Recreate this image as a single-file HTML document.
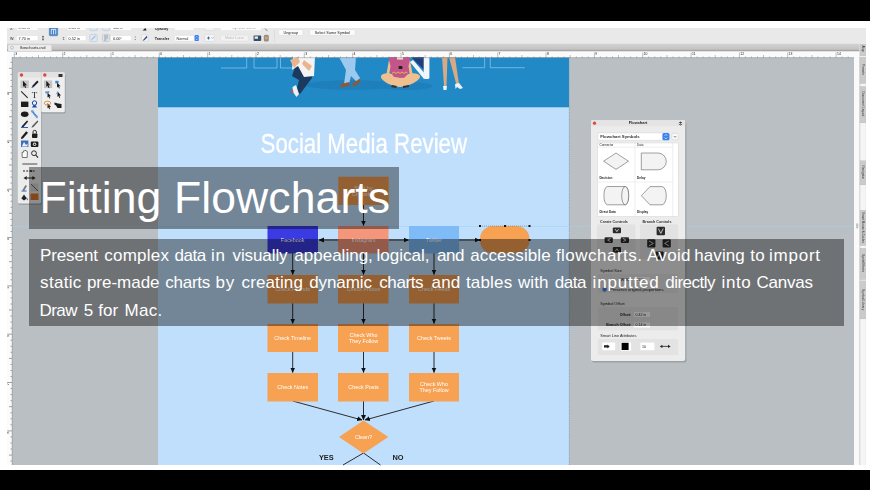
<!DOCTYPE html>
<html lang="en">
<head>
<meta charset="utf-8">
<title>Fitting Flowcharts</title>
<style>
html,body{margin:0;padding:0;background:#000;}
body{width:870px;height:490px;overflow:hidden;position:relative;font-family:"Liberation Sans",sans-serif;}
#stage{position:absolute;left:0;top:0;width:870px;height:490px;background:#000;overflow:hidden;}
#shot{position:absolute;left:0;top:21px;width:870px;height:449px;background:#fff;overflow:hidden;}
#shot svg{position:absolute;left:0;top:-21px;filter:blur(0.5px);}
.ov{position:absolute;background:rgba(0,0,0,0.4);color:#fff;}
#title{left:29px;top:166.5px;width:370px;height:62px;}
#title h1{margin:0;position:absolute;left:10.4px;top:7px;font-weight:400;font-size:44.5px;line-height:48px;white-space:nowrap;letter-spacing:0.12px;}
#desc{left:29px;top:239px;width:815px;height:87.4px;}
#desc p{margin:0;position:absolute;left:0;top:2.8px;width:815px;font-size:17px;line-height:27.4px;white-space:nowrap;}
#desc .ln{display:block;position:relative;height:27.4px;}
#desc .ln span{position:absolute;top:0;}
</style>
</head>
<body>
<div id="stage">
<div id="shot">
<svg width="870" height="490" viewBox="0 0 870 490" font-family="Liberation Sans, sans-serif">
<defs>
<linearGradient id="tabg" x1="0" y1="0" x2="0" y2="1"><stop offset="0" stop-color="#d3d3d3"/><stop offset="0.7" stop-color="#c3c3c3"/><stop offset="0.9" stop-color="#9e9e9e"/><stop offset="1" stop-color="#a8a8a8"/></linearGradient>
<marker id="ah" viewBox="0 0 6 6" refX="5.5" refY="3" markerWidth="6" markerHeight="6" orient="auto-start-reverse"><path d="M0,0.3 L6,3 L0,5.7 Z" fill="#111"/></marker>
</defs>
<!-- APP CHROME -->
<g id="chrome">
<rect x="7" y="28" width="859" height="16" fill="#e9e9e9"/>
<rect x="7" y="43.7" width="859" height="7.9" fill="url(#tabg)"/>
<rect x="7" y="51.5" width="853" height="6.5" fill="#fbfbfb"/>
<rect x="7" y="57" width="5" height="408" fill="#fbfbfb"/>
<rect x="12" y="57.5" width="842" height="407.5" fill="#b9bfc3"/>
<rect x="854" y="57" width="5.5" height="408" fill="#fafafa"/>
<rect x="859.5" y="45" width="6.5" height="420" fill="#d4d4d4"/>
</g>
<!-- PAGE -->
<g id="page">
<rect x="158" y="57.5" width="411" height="49.5" fill="#2289c7"/>
<rect x="158" y="107" width="411" height="358" fill="#bfdffc"/>
<line x1="569.3" y1="57" x2="569.3" y2="465" stroke="#7d9dbd" stroke-width="0.7" stroke-dasharray="1.2 1"/>
<line x1="158" y1="107" x2="569" y2="107" stroke="#1f7fbb" stroke-width="0.5"/>
</g>
<line x1="12" y1="226.5" x2="854" y2="226.5" stroke="#9ed3ee" stroke-width="0.6" opacity="0.85"/>
<g id="people">
<!-- outline rects -->
<g fill="none" stroke="#cfe6f6" stroke-width="0.55" opacity="0.85">
<polyline points="221,68 246.7,68 246.7,57"/>
<polyline points="254,57 254,68 277,68 277,57"/>
<polyline points="280.5,57 280.5,68 292,68"/>
<polyline points="462.3,67.7 484.6,67.7 484.6,57"/>
<polyline points="490.3,57 490.3,67.7 524.8,67.7"/>
</g>
<!-- shadows -->
<ellipse cx="352" cy="85" rx="46" ry="5" fill="#1f7fbb"/>
<ellipse cx="405" cy="86" rx="28" ry="4" fill="#1f7fbb"/>
<!-- person 1 -->
<path d="M296,64 L311,72 L312,78 L300,94 L296,92 L299,80 L292,76 Z" fill="#1b3a5e"/>
<path d="M293,57 L315,57 L314,76 L304,77 L298,66 L292,70 Z" fill="#f4f4f4"/>
<path d="M290,60 L298,57 L300,62 L294,68 Z" fill="#e9b48e"/>
<path d="M304,60 L312,66 L309,71 L302,64 Z" fill="#e9b48e"/>
<path d="M292.5,87 L296,85 L299,94 L296.5,97 L293,92 Z" fill="#eef1f4"/>
<rect x="291" y="90" width="2.2" height="3" fill="#c94b4b"/>
<!-- person 2 -->
<path d="M339,57 L356,57 L355,70 L360,78 L357,82 L351,76 L349,84 L344,84 L346,70 Z" fill="#9cc9ee"/>
<path d="M340.5,84 L349.5,82 L349.5,86 L340.5,87.5 Z" fill="#8a5a3c"/>
<path d="M352,84 L359,79 L361,81 L354,87 Z" fill="#8a5a3c"/>
<!-- person 3 -->
<path d="M381,76 C383,72 392,72 400,78 C408,72 418,72 420,76 C421,80 410,86 400,87 C390,86 380,80 381,76 Z" fill="#efc08f"/>
<path d="M389,57 L410,57 L410,72 L404,78 L394,77 L389,70 Z" fill="#c2558a"/>
<rect x="397" y="57" width="6" height="2.5" fill="#f4e3d3"/>
<rect x="398.5" y="66" width="4" height="3" rx="1" fill="#222"/><path d="M392,73.5 l2,-1.6 l2,1.6 l2,-1.6 l2,1.6 l2,-1.6 l2,1.6 l2,-1.6 l1.5,1.2" stroke="#f2c230" stroke-width="0.9" fill="none"/><path d="M389,60 L386.5,74 L389,76 L390.5,66 Z M410,60 L412.5,74 L410,76 L408.5,66 Z" fill="#efc08f"/>
<path d="M392,85 L397,86 L396,88 L391,87 Z" fill="#333"/><path d="M403,86 L409,85 L409,87 L403,88 Z" fill="#333"/>
<!-- N shape -->
<path d="M411,57 L424,57 L424,70 Z" fill="#1f3e7a"/>
<path d="M410,62 L413,60 L426,75 L424,79 Z" fill="#f2f6fa"/>
<rect x="423.7" y="57" width="5.7" height="22" rx="1.5" fill="#f2f6fa"/>
<!-- person 4 -->
<path d="M442,57 L447.5,57 L446.5,86 L444,86 Z" fill="#d9a983"/>
<path d="M449,57 L455,57 L459,84 L456.5,85 Z" fill="#d9a983"/>
<path d="M443,86 L447,86 L446.5,90 L443.5,90 Z" fill="#eef1f4"/>
<path d="M455,84 L459,83 L463,88 L460,89 L457,87 L455.5,89 Z" fill="#eef1f4"/>
</g>
<g id="flow" font-size="5.4" fill="#fff" text-anchor="middle">
<!-- connectors -->
<g stroke="#1a1a1a" stroke-width="0.9" fill="none">
<line x1="363.5" y1="205" x2="363.5" y2="225.5" marker-end="url(#ah)"/>
<line x1="338" y1="240" x2="319" y2="240" marker-end="url(#ah)"/>
<line x1="389" y1="240" x2="408.5" y2="240" marker-end="url(#ah)"/>
<line x1="459" y1="240" x2="479.5" y2="240" marker-end="url(#ah)"/>
<line x1="292.7" y1="253" x2="292.7" y2="274.5" marker-end="url(#ah)"/>
<line x1="363.5" y1="253" x2="363.5" y2="274.5" marker-end="url(#ah)"/>
<line x1="434" y1="253" x2="434" y2="274.5" marker-end="url(#ah)"/>
<line x1="292.7" y1="303" x2="292.7" y2="323.5" marker-end="url(#ah)"/>
<line x1="363.5" y1="303" x2="363.5" y2="323.5" marker-end="url(#ah)"/>
<line x1="434" y1="303" x2="434" y2="323.5" marker-end="url(#ah)"/>
<line x1="292.7" y1="352" x2="292.7" y2="372.5" marker-end="url(#ah)"/>
<line x1="363.5" y1="352" x2="363.5" y2="372.5" marker-end="url(#ah)"/>
<line x1="434" y1="352" x2="434" y2="372.5" marker-end="url(#ah)"/>
<line x1="292.7" y1="401" x2="362" y2="420" marker-end="url(#ah)"/>
<line x1="363.5" y1="401" x2="363.5" y2="420" marker-end="url(#ah)"/>
<line x1="434" y1="401" x2="365" y2="420" marker-end="url(#ah)"/>
<line x1="363.5" y1="453" x2="343" y2="465"/>
<line x1="363.5" y1="453" x2="380.5" y2="465"/>
</g>
<!-- boxes -->
<rect x="338.3" y="176.7" width="50.4" height="28.3" fill="#f7a152"/>
<text x="363.5" y="190">Start by</text><text x="363.5" y="195.5">Choosing</text>
<rect x="267.5" y="226" width="50.5" height="27.5" fill="#3b3be3"/>
<text x="292.7" y="241.5">Facebook</text>
<rect x="338" y="226" width="50.5" height="27.5" fill="#f4967c"/>
<text x="363.5" y="241.5">Instagram</text>
<rect x="409" y="226" width="50" height="27.5" fill="#7fbbf6"/>
<text x="434" y="241.5">Twitter</text>
<rect x="480" y="226" width="49.5" height="27.5" rx="13" ry="13" fill="#f7a152"/>
<g fill="#111"><rect x="479" y="225" width="2" height="2"/><rect x="504" y="225" width="2" height="2"/><rect x="528.5" y="225" width="2" height="2"/><rect x="479" y="239" width="2" height="2"/><rect x="528.5" y="239" width="2" height="2"/></g>
<line x1="480" y1="226" x2="529.5" y2="226" stroke="#444" stroke-width="0.4" stroke-dasharray="1 1"/>
<rect x="267.5" y="275" width="50.5" height="28.5" fill="#f7a152"/>
<text x="292.7" y="290.5">Check Friends</text>
<rect x="338" y="275" width="50.5" height="28.5" fill="#f7a152"/>
<text x="363.5" y="290.5">Check Photos</text>
<rect x="409" y="275" width="50" height="28.5" fill="#f7a152"/>
<text x="434" y="290.5">Check Feeds</text>
<rect x="267.5" y="324" width="50.5" height="28" fill="#f7a152"/>
<text x="292.7" y="339.5">Check Timeline</text>
<rect x="338" y="324" width="50.5" height="28" fill="#f7a152"/>
<text x="363.5" y="336.5">Check Who</text><text x="363.5" y="342.5">They Follow</text>
<rect x="409" y="324" width="50" height="28" fill="#f7a152"/>
<text x="434" y="339.5">Check Tweets</text>
<rect x="267.5" y="373" width="50.5" height="28.5" fill="#f7a152"/>
<text x="292.7" y="388.5">Check Notes</text>
<rect x="338" y="373" width="50.5" height="28.5" fill="#f7a152"/>
<text x="363.5" y="388.5">Check Posts</text>
<rect x="409" y="373" width="50" height="28.5" fill="#f7a152"/>
<text x="434" y="385.5">Check Who</text><text x="434" y="391.5">They Follow</text>
<polygon points="363.5,420.5 388.3,437 363.5,453.5 339,437" fill="#f7a152"/>
<text x="363.5" y="438.5">Clean?</text>
<text x="326.3" y="459.5" font-size="7.4" font-weight="700" fill="#222">YES</text>
<text x="398" y="459.5" font-size="7.4" font-weight="700" fill="#222">NO</text>
<text x="363.8" y="153" font-size="28" fill="#fff" stroke="#fff" stroke-width="0.35" textLength="206.5" lengthAdjust="spacingAndGlyphs">Social Media Review</text>
</g>
<g id="toolbox">
<!-- shadow -->
<rect x="18.5" y="73.5" width="23.5" height="131.3" rx="1.5" fill="#000" opacity="0.18"/>
<rect x="41.5" y="73.5" width="24" height="40" rx="1.5" fill="#000" opacity="0.18"/>
<rect x="17.8" y="72.3" width="23.4" height="131.3" rx="1.5" fill="#ececec"/>
<rect x="41.2" y="72.3" width="23.6" height="40" rx="1.5" fill="#efefef"/>
<rect x="17.8" y="72.3" width="47" height="5.2" rx="1.5" fill="#e2e2e2"/>
<line x1="41.2" y1="72.3" x2="41.2" y2="112.3" stroke="#c8c8c8" stroke-width="0.5"/>
<circle cx="21.5" cy="75" r="1.7" fill="#e0443e"/>
<circle cx="44.8" cy="75" r="1.7" fill="#e0443e"/>
<rect x="58.5" y="74" width="4" height="3" fill="#333"/>
<!-- selected -->
<rect x="20.6" y="80.5" width="8.2" height="7.6" fill="#c4c4c4"/>
<rect x="44" y="80.5" width="8.2" height="7.6" fill="#c4c4c4"/>
<!-- col1 icons -->
<g fill="#1c1c1c" stroke="none">
<path d="M23,80.8 L27,85.2 L25.2,85.2 L26.2,87.6 L25.2,88 L24.2,85.7 L23,86.8 Z"/>
<path d="M21.5,91 L28,97.5 L27.3,98.2 L20.8,91.7 Z"/>
<rect x="21" y="101.6" width="7.4" height="5.4"/>
<ellipse cx="24.7" cy="114.3" rx="3.8" ry="2.7"/>
<path d="M21.5,126.5 L27,120.5 L28.2,121.6 L23,127.5 Z"/><rect x="21" y="127" width="7" height="1" fill="#2a5fb5"/>
<path d="M21.2,137.2 L26.2,131.2 L28,132.8 L23,138.5 L21,139 Z"/>
<rect x="21" y="140.5" width="7.4" height="6.5" fill="#3c6fb6"/><path d="M22,146 L24,142 L26,145 L27.5,143.5 L27.5,146.5 L22,146.5 Z" fill="#e8f0fa"/>
<path d="M22.3,157.5 L22,152.5 L23.3,152.3 L23.6,150.8 L24.8,150.8 L25,150.4 L26.2,150.6 L26.3,151.2 L27.4,151.6 L27.2,157.5 Z" fill="#fafafa" stroke="#222" stroke-width="0.6"/>
</g>
<!-- col2 icons -->
<g>
<path d="M37.2,80.6 L38.6,82 L33.6,87 L31.6,87.8 L32.4,85.8 Z" fill="#1c1c1c"/><path d="M33.6,87 L31.6,87.8 L32.4,85.8 Z" fill="#2d64c8"/>
<text x="34.5" y="97.6" font-family="Liberation Serif, serif" font-size="9" text-anchor="middle" fill="#1c1c1c">T</text>
<circle cx="34.5" cy="103" r="2.2" fill="none" stroke="#1d4fb0" stroke-width="1"/><path d="M32,107.5 L37,107.5 L35.5,105 L33.5,105 Z" fill="#1d4fb0"/>
<path d="M31.5,111.5 L33,110.5 L35,113.5 L37.5,116 L36.5,117.5 L34,115 Z" fill="#4a8ad4"/><circle cx="32.2" cy="111.2" r="1.2" fill="#6aa5e4"/><circle cx="36.8" cy="117" r="1.2" fill="#6aa5e4"/>
<path d="M37.4,120.6 L38.4,121.6 L33.4,127 L31.4,127.8 L32.2,126 Z" fill="#555"/>
<rect x="32" y="133.5" width="5.4" height="4.5" rx="0.8" fill="#1c1c1c"/><path d="M33,133.5 L33,132 A1.7,1.7 0 0 1 36.4,132 L36.4,133.5" fill="none" stroke="#1c1c1c" stroke-width="0.9"/>
<rect x="30.8" y="141.5" width="7.6" height="5.4" rx="1" fill="#1c1c1c"/><circle cx="34.6" cy="144.3" r="1.7" fill="#ececec"/><circle cx="34.6" cy="144.3" r="0.9" fill="#1c1c1c"/>
<circle cx="34" cy="153.2" r="2.4" fill="none" stroke="#1c1c1c" stroke-width="0.9"/><line x1="35.8" y1="155" x2="38" y2="157.6" stroke="#1c1c1c" stroke-width="1.1"/>
</g>
<!-- lower -->
<line x1="22.3" y1="164" x2="37.3" y2="164" stroke="#222" stroke-width="0.8"/>
<line x1="23" y1="171" x2="35.6" y2="171" stroke="#222" stroke-width="1" stroke-dasharray="2 1.2"/><circle cx="31" cy="171" r="1" fill="#222"/>
<line x1="25" y1="178" x2="34" y2="178" stroke="#222" stroke-width="1"/><path d="M23.5,178 L26.7,176 L26.7,180 Z M35.6,178 L32.4,176 L32.4,180 Z" fill="#222"/>
<path d="M22.5,190 L25.5,185 L27,186 L24,191 Z" fill="#777"/><rect x="21.5" y="190.5" width="5" height="1" fill="#2a5fb5"/>
<rect x="30.5" y="183.5" width="8" height="8" fill="#d6d6d6"/><line x1="31" y1="184" x2="38" y2="191" stroke="#333" stroke-width="0.7"/>
<path d="M21.3,198.5 L24,194.5 L26.8,198.5 L24,200.5 Z" fill="#222"/><path d="M26.5,197 L28,199.5 L27,200.5 Z" fill="#2a5fb5"/>
<rect x="30.5" y="193.5" width="8" height="6.5" fill="#d9772c"/>
<!-- flyout icons -->
<g fill="#1c1c1c">
<path d="M46.3,80.8 L50.3,85.2 L48.5,85.2 L49.5,87.6 L48.5,88 L47.5,85.7 L46.3,86.8 Z"/>
<path d="M57,82.5 L60.6,86.3 L59,86.3 L59.8,88.2 L59,88.5 L58.2,86.7 L57,87.6 Z"/><rect x="55.3" y="80.8" width="3.2" height="2.6" fill="#3f7fd0"/>
<path d="M47.5,92.5 L51,96.3 L49.4,96.3 L50.2,98.2 L49.4,98.5 L48.6,96.7 L47.5,97.6 Z"/><path d="M45,91.5 L49.5,91 L49,93 L45.8,93.8 Z" fill="#5a97dc"/>
<path d="M57.5,91.5 L61,95.6 L59.4,95.6 L60.2,97.8 L59.4,98 L58.6,96 L57.5,97 Z"/><path d="M55.5,94.5 L58,91 L58.5,93 Z" fill="#5a97dc"/>
<path d="M47.5,103 L51,107 L49.4,107 L50.2,109 L49.4,109.3 L48.6,107.4 L47.5,108.3 Z"/><ellipse cx="47.5" cy="103.2" rx="3.2" ry="2" fill="none" stroke="#e08a2e" stroke-width="0.9"/>
<path d="M54.5,102.5 L58,103.5 L61.5,104 L61.5,108 L57.5,108 L56,105.5 L54.5,104.5 Z"/>
</g>
</g>
<g id="panel" font-size="3.6" fill="#222">
<rect x="592" y="121.5" width="94.5" height="241" rx="2" fill="#000" opacity="0.16"/>
<rect x="591" y="120" width="94.2" height="241" rx="2" fill="#ececec"/>
<rect x="591" y="120" width="94.2" height="6.3" rx="2" fill="#e4e4e4"/>
<circle cx="594.5" cy="123.2" r="1.6" fill="#e0443e"/>
<text x="638" y="124.3" text-anchor="middle" font-size="3.9" font-weight="700">Flowchart</text>
<path d="M680.5,121.5 L680.5,124.5 M679,122.5 L682,122.5 M678.8,124 Q680.5,126.2 682.2,124" stroke="#333" stroke-width="0.7" fill="none"/>
<!-- dropdown -->
<rect x="597.7" y="132.9" width="71.7" height="7.4" rx="1.2" fill="#fff" stroke="#c9c9c9" stroke-width="0.4"/>
<text x="600.3" y="138.2" font-size="4.3" font-weight="700" fill="#333">Flowchart Symbols</text>
<rect x="662.4" y="132.9" width="7" height="7.4" rx="1.5" fill="#3b82f0"/>
<path d="M664.6,135.8 L665.9,134.3 L667.2,135.8 M664.6,137.5 L665.9,139 L667.2,137.5" stroke="#fff" stroke-width="0.6" fill="none"/>
<rect x="672" y="133.4" width="6.2" height="6.4" rx="1" fill="#fafafa" stroke="#c4c4c4" stroke-width="0.4"/>
<path d="M673.9,136 L675.1,137.4 L676.3,136" stroke="#444" stroke-width="0.6" fill="none"/>
<!-- symbol list -->
<rect x="597.7" y="143" width="80.5" height="73.3" fill="#fff" stroke="#d0d0d0" stroke-width="0.4"/>
<g stroke="#d4d4d4" stroke-width="0.4"><line x1="597.7" y1="147.2" x2="672.8" y2="147.2"/><line x1="597.7" y1="182" x2="672.8" y2="182"/><line x1="635" y1="143" x2="635" y2="216.3"/><line x1="672.8" y1="143" x2="672.8" y2="216.3"/></g>
<text x="599.5" y="145.8" font-size="3">Connector</text><text x="637" y="145.8" font-size="3">Data</text>
<g fill="#f3f3f3" stroke="#444" stroke-width="0.5">
<polygon points="603.6,161.2 616,153 628.5,161.2 616,169.4"/>
<path d="M641.3,153 L657.9,153 A8.4,8.4 0 0 1 657.9,169.8 L641.3,169.8 Z"/>
<path d="M607.4,186.5 L625.2,186.5 A3.5,9.15 0 0 1 625.2,204.8 L607.4,204.8 A3.5,9.15 0 0 1 607.4,186.5 Z"/>
<ellipse cx="625.2" cy="195.65" rx="3.5" ry="9.15"/>
<path d="M650,186.6 L662,186.6 A4.3,9.1 0 0 1 662,204.8 L650,204.8 L641.3,195.7 Z"/>
</g>
<g font-weight="700" font-size="3.1"><text x="599.4" y="178.6">Decision</text><text x="637.1" y="178.6">Delay</text>
<text x="599.4" y="213">Direct Data</text><text x="637.1" y="213">Display</text></g>
<!-- controls -->
<text x="613.9" y="222.7" text-anchor="middle" font-size="3.7" font-weight="700" fill="#333">Create Controls</text>
<text x="657" y="222.7" text-anchor="middle" font-size="3.7" font-weight="700" fill="#333">Branch Controls</text>
<rect x="597" y="224.3" width="38.4" height="35" rx="1.5" fill="#e2e2e2"/>
<rect x="640" y="224.3" width="38" height="35" rx="1.5" fill="#e2e2e2"/>
<g fill="#2b2b2b">
<rect x="612.8" y="227.4" width="8.2" height="5.8" rx="1"/><rect x="604.6" y="237.2" width="8.2" height="5.8" rx="1"/><rect x="620.8" y="237.2" width="8.2" height="5.8" rx="1"/><rect x="612.8" y="247" width="8.2" height="5.8" rx="1"/>
<rect x="656.6" y="226.8" width="8.4" height="8.4" rx="1"/><rect x="647.2" y="239.3" width="8.2" height="8.2" rx="1"/><rect x="662.6" y="239.3" width="8.2" height="8.2" rx="1"/><rect x="655.4" y="251.4" width="8.2" height="8" rx="1"/>
</g>
<g stroke="#f0f0f0" stroke-width="0.8" fill="none">
<path d="M615.2,229.2 L616.9,231.6 L618.6,229.2"/><path d="M610.4,238.6 L607.6,240.1 L610.4,241.6"/><path d="M623.2,238.6 L626,240.1 L623.2,241.6"/><path d="M615.2,251.2 L616.9,248.8 L618.6,251.2"/>
<path d="M658.4,228.6 L660.8,233.4 L663.2,228.6"/><path d="M649,241 L653.4,243.4 L649,245.8"/><path d="M668.8,241 L664.6,243.4 L668.8,245.8"/><path d="M657.2,257.6 L659.5,253.2 L661.8,257.6"/>
</g>
<!-- symbol size -->
<text x="600.3" y="271.6" font-size="3.9">Symbol Size</text>
<rect x="597.7" y="274" width="80.4" height="19" rx="1.5" fill="#e3e3e3"/>
<text x="631" y="280.6" text-anchor="end">Width:</text><rect x="634" y="277" width="16" height="5" fill="#fff"/><text x="635.5" y="280.8">0.52 in</text>
<rect x="602.6" y="287.4" width="4" height="4" rx="0.8" fill="#3b82f0"/>
<text x="610" y="291" font-size="4.2">Preserve original proportions</text>
<!-- symbol offset -->
<text x="600.3" y="304.8" font-size="3.9">Symbol Offset</text>
<rect x="597.7" y="307" width="80.4" height="23.5" rx="1.5" fill="#e3e3e3"/>
<text x="631.3" y="315.8" text-anchor="end" font-weight="700">Offset:</text><rect x="634" y="312" width="16" height="5" fill="#fff"/><text x="635.5" y="315.8">0.42 in</text>
<text x="631.3" y="326.2" text-anchor="end" font-weight="700">Branch Offset:</text><rect x="634" y="322.4" width="16" height="5" fill="#fff"/><text x="635.5" y="326.2">0.14 in</text>
<!-- smart line -->
<text x="600.3" y="337" font-size="3.9">Smart Line Attributes</text>
<rect x="597.7" y="339" width="80.4" height="16" rx="1.5" fill="#e3e3e3"/>
<rect x="602.2" y="342.6" width="13" height="7.6" rx="1" fill="#fff"/><path d="M604,345.2 L607.5,345.2 L607.5,344.4 L609.6,346.4 L607.5,348.4 L607.5,347.6 L604,347.6 Z" fill="#222"/>
<rect x="620.6" y="342" width="10.5" height="8.8" rx="1" fill="#fff"/><rect x="621.6" y="342.8" width="7" height="7.2" fill="#000"/>
<rect x="640.4" y="342.6" width="14" height="7.6" fill="#fff"/><text x="642" y="347.8">10</text>
<line x1="661.5" y1="346.4" x2="669" y2="346.4" stroke="#222" stroke-width="0.8"/><path d="M659.8,346.4 L662.4,344.8 L662.4,348 Z M670.6,346.4 L668,344.8 L668,348 Z" fill="#222"/>
</g>
<g id="rulers">
<path d="M14.3,58v-5.5M20.3,58v-1.6M26.4,58v-1.6M32.4,58v-1.6M38.5,58v-3M44.5,58v-1.6M50.6,58v-1.6M56.6,58v-1.6M62.6,58v-5.5M68.7,58v-1.6M74.7,58v-1.6M80.8,58v-1.6M86.8,58v-3M92.9,58v-1.6M98.9,58v-1.6M104.9,58v-1.6M111.0,58v-5.5M117.0,58v-1.6M123.1,58v-1.6M129.1,58v-1.6M135.2,58v-3M141.2,58v-1.6M147.2,58v-1.6M153.3,58v-1.6M159.3,58v-5.5M165.4,58v-1.6M171.4,58v-1.6M177.4,58v-1.6M183.5,58v-3M189.5,58v-1.6M195.6,58v-1.6M201.6,58v-1.6M207.7,58v-5.5M213.7,58v-1.6M219.7,58v-1.6M225.8,58v-1.6M231.8,58v-3M237.9,58v-1.6M243.9,58v-1.6M250.0,58v-1.6M256.0,58v-5.5M262.0,58v-1.6M268.1,58v-1.6M274.1,58v-1.6M280.2,58v-3M286.2,58v-1.6M292.3,58v-1.6M298.3,58v-1.6M304.3,58v-5.5M310.4,58v-1.6M316.4,58v-1.6M322.5,58v-1.6M328.5,58v-3M334.6,58v-1.6M340.6,58v-1.6M346.6,58v-1.6M352.7,58v-5.5M358.7,58v-1.6M364.8,58v-1.6M370.8,58v-1.6M376.9,58v-3M382.9,58v-1.6M388.9,58v-1.6M395.0,58v-1.6M401.0,58v-5.5M407.1,58v-1.6M413.1,58v-1.6M419.1,58v-1.6M425.2,58v-3M431.2,58v-1.6M437.3,58v-1.6M443.3,58v-1.6M449.4,58v-5.5M455.4,58v-1.6M461.4,58v-1.6M467.5,58v-1.6M473.5,58v-3M479.6,58v-1.6M485.6,58v-1.6M491.7,58v-1.6M497.7,58v-5.5M503.7,58v-1.6M509.8,58v-1.6M515.8,58v-1.6M521.9,58v-3M527.9,58v-1.6M534.0,58v-1.6M540.0,58v-1.6M546.0,58v-5.5M552.1,58v-1.6M558.1,58v-1.6M564.2,58v-1.6M570.2,58v-3M576.3,58v-1.6M582.3,58v-1.6M588.3,58v-1.6M594.4,58v-5.5M600.4,58v-1.6M606.5,58v-1.6M612.5,58v-1.6M618.5,58v-3M624.6,58v-1.6M630.6,58v-1.6M636.7,58v-1.6M642.7,58v-5.5M648.8,58v-1.6M654.8,58v-1.6M660.8,58v-1.6M666.9,58v-3M672.9,58v-1.6M679.0,58v-1.6M685.0,58v-1.6M691.1,58v-5.5M697.1,58v-1.6M703.1,58v-1.6M709.2,58v-1.6M715.2,58v-3M721.3,58v-1.6M727.3,58v-1.6M733.4,58v-1.6M739.4,58v-5.5M745.4,58v-1.6M751.5,58v-1.6M757.5,58v-1.6M763.6,58v-3M769.6,58v-1.6M775.7,58v-1.6M781.7,58v-1.6M787.7,58v-5.5M793.8,58v-1.6M799.8,58v-1.6M805.9,58v-1.6M811.9,58v-3M818.0,58v-1.6M824.0,58v-1.6M830.0,58v-1.6M836.1,58v-5.5M842.1,58v-1.6M848.2,58v-1.6" stroke="#444" stroke-width="0.45" opacity="0.75" fill="none"/>
<path d="M12,62.3h-1.5M12,68.3h-3M12,74.4h-1.5M12,80.4h-1.5M12,86.5h-1.5M12,92.5h-4.8M12,98.5h-1.5M12,104.6h-1.5M12,110.6h-1.5M12,116.7h-3M12,122.7h-1.5M12,128.8h-1.5M12,134.8h-1.5M12,140.8h-4.8M12,146.9h-1.5M12,152.9h-1.5M12,159.0h-1.5M12,165.0h-3M12,171.1h-1.5M12,177.1h-1.5M12,183.1h-1.5M12,189.2h-4.8M12,195.2h-1.5M12,201.3h-1.5M12,207.3h-1.5M12,213.3h-3M12,219.4h-1.5M12,225.4h-1.5M12,231.5h-1.5M12,237.5h-4.8M12,243.6h-1.5M12,249.6h-1.5M12,255.6h-1.5M12,261.7h-3M12,267.7h-1.5M12,273.8h-1.5M12,279.8h-1.5M12,285.9h-4.8M12,291.9h-1.5M12,297.9h-1.5M12,304.0h-1.5M12,310.0h-3M12,316.1h-1.5M12,322.1h-1.5M12,328.2h-1.5M12,334.2h-4.8M12,340.2h-1.5M12,346.3h-1.5M12,352.3h-1.5M12,358.4h-3M12,364.4h-1.5M12,370.5h-1.5M12,376.5h-1.5M12,382.5h-4.8M12,388.6h-1.5M12,394.6h-1.5M12,400.7h-1.5M12,406.7h-3M12,412.8h-1.5M12,418.8h-1.5M12,424.8h-1.5M12,430.9h-4.8M12,436.9h-1.5M12,443.0h-1.5M12,449.0h-1.5M12,455.1h-3M12,461.1h-1.5" stroke="#333" stroke-width="0.45" fill="none"/>
<g font-size="3.4" fill="#222"><text x="15.2" y="55.2">3</text><text x="63.5" y="55.2">2</text><text x="111.9" y="55.2">1</text><text x="160.2" y="55.2">0</text><text x="208.6" y="55.2">1</text><text x="256.9" y="55.2">2</text><text x="305.2" y="55.2">3</text><text x="353.6" y="55.2">4</text><text x="401.9" y="55.2">5</text><text x="450.3" y="55.2">6</text><text x="498.6" y="55.2">7</text><text x="546.9" y="55.2">8</text><text x="595.3" y="55.2">9</text><text x="643.6" y="55.2">10</text><text x="692.0" y="55.2">11</text><text x="740.3" y="55.2">12</text><text x="788.6" y="55.2">13</text><text x="837.0" y="55.2">14</text><text x="9.2" y="95.0" transform="rotate(-90 9.2 95.0)">1</text><text x="9.2" y="143.3" transform="rotate(-90 9.2 143.3)">2</text><text x="9.2" y="191.7" transform="rotate(-90 9.2 191.7)">3</text><text x="9.2" y="240.0" transform="rotate(-90 9.2 240.0)">4</text><text x="9.2" y="288.4" transform="rotate(-90 9.2 288.4)">5</text><text x="9.2" y="336.7" transform="rotate(-90 9.2 336.7)">6</text><text x="9.2" y="385.0" transform="rotate(-90 9.2 385.0)">7</text><text x="9.2" y="433.4" transform="rotate(-90 9.2 433.4)">8</text></g>
<line x1="12" y1="57.7" x2="854" y2="57.7" stroke="#8d9296" stroke-width="0.5"/>
<line x1="12.2" y1="57" x2="12.2" y2="465" stroke="#8d9296" stroke-width="0.6"/>
</g>
<g id="righttabs" font-size="3.2" fill="#333">
<rect x="859.6" y="43.7" width="6.2" height="421.3" fill="#f5f5f5"/>
<rect x="859.4" y="57" width="0.9" height="408" fill="#d2d2d2"/>
<g fill="#cbcbcb" stroke="#b2b2b2" stroke-width="0.3">
<rect x="860" y="44.3" width="5.8" height="11.6"/><rect x="860" y="57.1" width="5.8" height="26.4"/><rect x="860" y="86.5" width="5.8" height="36.4"/><rect x="860" y="160.8" width="5.8" height="24.1"/><rect x="860" y="210.2" width="5.8" height="35.4"/><rect x="860" y="248.3" width="5.8" height="31.3"/><rect x="860" y="280.9" width="5.8" height="38"/>
</g>
<text transform="translate(861.8 45.6) rotate(90)" font-size="3">Align</text>
<text transform="translate(861.8 64) rotate(90)">Presets</text>
<text transform="translate(861.8 91.5) rotate(90)">Document Layout</text>
<text transform="translate(861.8 165.5) rotate(90)">Navigator</text>
<text transform="translate(861.8 212) rotate(90)" font-size="3">Smart Mouse &amp; Guides</text>
<text transform="translate(861.8 254) rotate(90)">SpriteEffects</text>
<text transform="translate(861.8 289) rotate(90)">Symbol Library</text>
<rect x="856" y="223.3" width="2.3" height="5.3" rx="1" fill="#c6c6c6"/>
</g>
<g id="toolbar" font-size="3.8" fill="#222">
<!-- tab -->
<path d="M8,51.4 L8,46 Q8,44.6 9.4,44.6 L50.4,44.6 Q51.8,44.6 51.8,46 L51.8,51.4 Z" fill="#ececec" stroke="#b0b0b0" stroke-width="0.3"/>
<circle cx="12" cy="47.6" r="1.5" fill="none" stroke="#888" stroke-width="0.4"/>
<text x="32.8" y="49" text-anchor="middle" font-size="4">flowcharts.cvd</text>
<!-- row 2 -->
<text x="10" y="39.6" font-size="3.6">W:</text>
<rect x="16.4" y="35.6" width="21.6" height="5.2" fill="#fff" stroke="#d2d2d2" stroke-width="0.3"/><text x="18.6" y="39.6">7.70 in</text>
<path d="M43,35.8 v4.6 M42.2,36.6 h1.6 M42.2,39.6 h1.6" stroke="#444" stroke-width="0.7" fill="none"/>
<rect x="49.3" y="27.2" width="8.4" height="8.6" rx="1" fill="#4b86c9" stroke="#2f66a6" stroke-width="0.4"/>
<path d="M51.3,29.5 v4.8 M53.5,29.5 v4.8 M55.7,29.5 v4.8 M51,29.4 h5" stroke="#eaf2fb" stroke-width="0.8" fill="none"/>
<text x="62.6" y="39.8" font-size="4">‡</text>
<rect x="67" y="35.6" width="19" height="5.2" fill="#fff" stroke="#d2d2d2" stroke-width="0.3"/><text x="68.6" y="39.6">0.52 in</text>
<rect x="89.8" y="34.4" width="7.4" height="7.2" rx="1" fill="#dfe8f2" stroke="#9fb3c8" stroke-width="0.4"/><path d="M91.5,39.8 L95.5,36" stroke="#4b86c9" stroke-width="0.7"/>
<rect x="102.4" y="34.4" width="7" height="7.2" rx="1" fill="#e4e4e4" stroke="#aaa" stroke-width="0.4"/><path d="M104,36 h4 M104,38 h4 M104,40 h2.4" stroke="#3d6fb0" stroke-width="0.6"/>
<rect x="110.6" y="35.6" width="21" height="5.2" fill="#fff" stroke="#d2d2d2" stroke-width="0.3"/><text x="113" y="39.6">0.00°</text>
<path d="M135.3,36.6 v0.8 M135.3,39 v0.8" stroke="#444" stroke-width="0.8"/>
<rect x="141.4" y="34.6" width="6.6" height="6.8" rx="1" fill="#f4f4f4" stroke="#bbb" stroke-width="0.3"/><path d="M142.6,40.4 L146.8,35.8 L147.2,37.4 L144,40.6 Z" fill="#23418a"/>
<text x="154.7" y="39.6" font-weight="700" font-size="3.7">Transfer</text>
<rect x="174.5" y="35.4" width="19.5" height="5.6" rx="1" fill="#fff" stroke="#d2d2d2" stroke-width="0.3"/><text x="176.6" y="39.5" font-size="3.6">Normal</text>
<rect x="194.6" y="35.1" width="4.2" height="6" rx="1.2" fill="#3b82f0"/><path d="M195.8,37.4 l0.9,-1 l0.9,1 M195.8,38.8 l0.9,1 l0.9,-1" stroke="#fff" stroke-width="0.5" fill="none"/>
<rect x="204.8" y="34.6" width="9.6" height="6.8" rx="1" fill="#f6f6f6" stroke="#bbb" stroke-width="0.3"/><path d="M207,38 h3 M208.5,36.5 v3" stroke="#3565b0" stroke-width="0.9"/><path d="M211.6,37.4 l0.9,1 l0.9,-1" stroke="#444" stroke-width="0.4" fill="none"/>
<rect x="220.4" y="35.2" width="28" height="5.8" rx="1" fill="#f3f3f3" stroke="#cfcfcf" stroke-width="0.3"/><text x="234.4" y="39.4" text-anchor="middle" fill="#b9b9b9">Make Lone</text>
<rect x="253.6" y="35.4" width="7.6" height="5.6" rx="0.8" fill="#3a4b63"/><rect x="254.6" y="36.4" width="3.4" height="2.4" fill="#dfe6ef"/>
<rect x="263.8" y="34.8" width="5" height="6.6" rx="1.5" fill="#8e8e8e"/><rect x="265" y="36.4" width="2.6" height="3" fill="#e4a04c"/>
<line x1="274.4" y1="29" x2="274.4" y2="42" stroke="#cfcfcf" stroke-width="0.5"/>
<rect x="278.6" y="29.6" width="24.4" height="5.8" rx="1" fill="#fbfbfb" stroke="#c6c6c6" stroke-width="0.3"/><text x="290.8" y="33.9" text-anchor="middle">Ungroup</text>
<rect x="309.6" y="29.6" width="45.6" height="5.8" rx="1" fill="#fbfbfb" stroke="#c6c6c6" stroke-width="0.3"/><text x="332.4" y="33.9" text-anchor="middle">Select Same Symbol</text>
<!-- row 1 fragments (cut off) -->
<g>
<text x="10" y="29.6" font-size="3.6">X:</text>
<rect x="16.4" y="26" width="21.6" height="4.4" fill="#fff" stroke="#d2d2d2" stroke-width="0.3"/><text x="18.6" y="29.4">0.55 in</text>
<rect x="67" y="26" width="19" height="4.4" fill="#fff" stroke="#d2d2d2" stroke-width="0.3"/><text x="68.6" y="29.4">4.85 in</text>
<rect x="89.8" y="26" width="7.4" height="4.6" rx="1" fill="#dfe8f2" stroke="#9fb3c8" stroke-width="0.4"/>
<rect x="102.4" y="26" width="7" height="4.6" rx="1" fill="#dfe8f2" stroke="#9fb3c8" stroke-width="0.4"/>
<rect x="110.6" y="26" width="21" height="4.4" fill="#fff" stroke="#d2d2d2" stroke-width="0.3"/><text x="113" y="29.4">100%</text>
<path d="M142.6,30.6 L145.4,28 L146.6,30.6 Z" fill="#222"/>
<text x="154.7" y="29.6" font-weight="700" font-size="3.7">Opacity</text>
<rect x="174.5" y="26" width="19.5" height="4.4" rx="1" fill="#fff" stroke="#d2d2d2" stroke-width="0.3"/>
<rect x="204.8" y="26" width="9.6" height="4.4" rx="1" fill="#f6f6f6" stroke="#bbb" stroke-width="0.3"/>
<rect x="220.4" y="26" width="41" height="4.4" rx="1" fill="#fff" stroke="#d2d2d2" stroke-width="0.3"/><text x="232" y="29.2" fill="#999">Symbol Name</text>
<path d="M265,28.5 l2.4,2.6" stroke="#555" stroke-width="0.7"/>
</g>
<rect x="0" y="21" width="870" height="7" fill="#fff"/>
<rect x="0" y="28" width="7" height="442" fill="#fff"/>
</g>
</svg>
</div>
<div class="ov" id="title"><h1>Fitting Flowcharts</h1></div>
<div class="ov" id="desc"><p><span class="ln"><span style="left:10.9px;letter-spacing:-0.08px">Present</span> <span style="left:75.3px;letter-spacing:0.23px">complex</span> <span style="left:145.5px;letter-spacing:-0.50px">data</span> <span style="left:181.9px;letter-spacing:0.80px">in</span> <span style="left:203.5px;letter-spacing:-0.09px">visually</span> <span style="left:265.3px;letter-spacing:0.01px">appealing,</span> <span style="left:347.4px;letter-spacing:0.03px">logical,</span> <span style="left:407.9px;letter-spacing:-0.46px">and</span> <span style="left:441.2px;letter-spacing:0.13px">accessible</span> <span style="left:526.9px;letter-spacing:0.48px">flowcharts.</span> <span style="left:618.0px;letter-spacing:0.31px">Avoid</span> <span style="left:665.3px;letter-spacing:0.07px">having</span> <span style="left:721.3px;letter-spacing:0.28px">to</span> <span style="left:740.1px;letter-spacing:0.74px">import</span></span>
<span class="ln"><span style="left:11.1px;letter-spacing:0.32px">static</span> <span style="left:57.9px;letter-spacing:-0.01px">pre-made</span> <span style="left:136.2px;letter-spacing:-0.24px">charts</span> <span style="left:186.4px;letter-spacing:0.80px">by</span> <span style="left:212.6px;letter-spacing:0.11px">creating</span> <span style="left:280.2px;letter-spacing:-0.10px">dynamic</span> <span style="left:350.2px;letter-spacing:-0.38px">charts</span> <span style="left:402.5px;letter-spacing:0.20px">and</span> <span style="left:436.9px;letter-spacing:0.19px">tables</span> <span style="left:489.0px;letter-spacing:0.04px">with</span> <span style="left:525.7px;letter-spacing:-0.44px">data</span> <span style="left:563.6px;letter-spacing:0.80px">inputted</span> <span style="left:636.2px;letter-spacing:-0.50px">directly</span> <span style="left:692.6px;letter-spacing:0.58px">into</span> <span style="left:727.4px;letter-spacing:-0.23px">Canvas</span></span>
<span class="ln"><span style="left:10.4px;letter-spacing:-0.50px">Draw</span> <span style="left:54.7px;letter-spacing:0.00px">5</span> <span style="left:69.3px;letter-spacing:0.01px">for</span> <span style="left:95.6px;letter-spacing:0.26px">Mac.</span></span></p></div>
</div>
</body>
</html>
